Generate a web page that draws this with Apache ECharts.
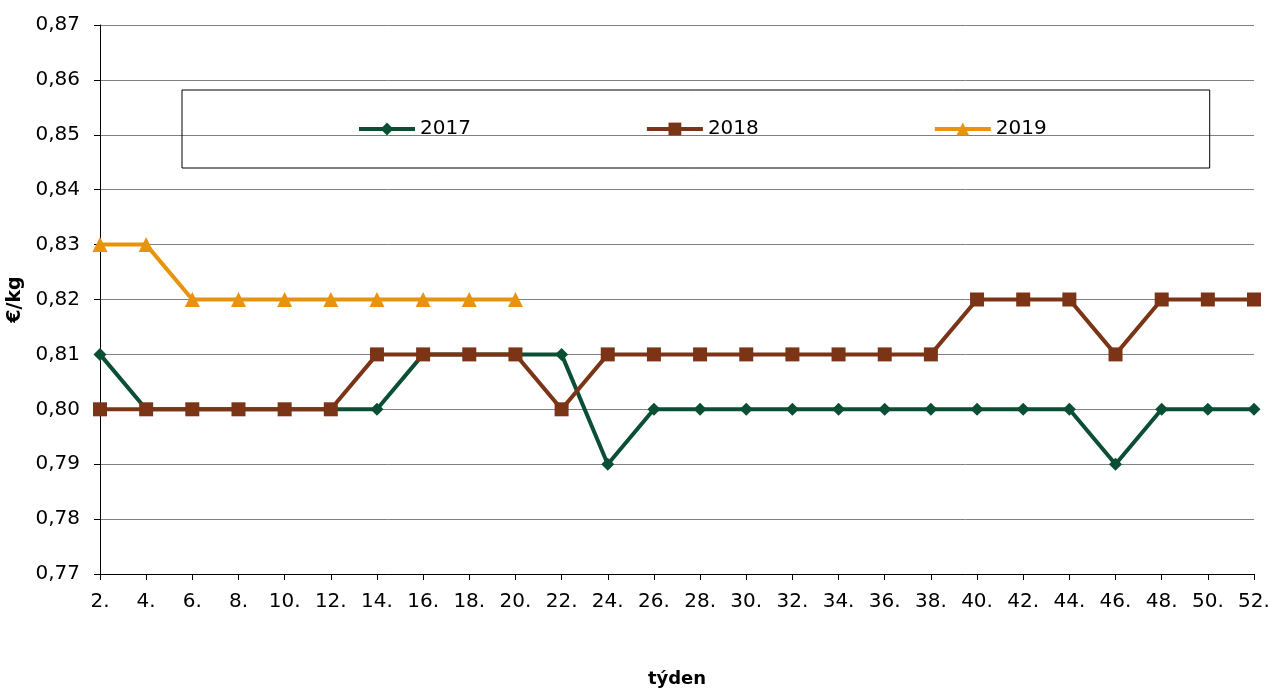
<!DOCTYPE html>
<html>
<head>
<meta charset="utf-8">
<script src="https://cdn.jsdelivr.net/npm/echarts@6/dist/echarts.min.js"></script>
<style>
  html, body { margin: 0; padding: 0; background: #fff; }
  #chart { width: 1273px; height: 689px; }
</style>
</head>
<body>
<div id="chart"></div>
<script>
// týdny (kategorie osy x)
const weeks = ['2.', '4.', '6.', '8.', '10.', '12.', '14.', '16.', '18.', '20.', '22.', '24.', '26.',
  '28.', '30.', '32.', '34.', '36.', '38.', '40.', '42.', '44.', '46.', '48.', '50.', '52.'];

const y2017 = [0.81, 0.80, 0.80, 0.80, 0.80, 0.80, 0.80, 0.81, 0.81, 0.81, 0.81, 0.79, 0.80,
  0.80, 0.80, 0.80, 0.80, 0.80, 0.80, 0.80, 0.80, 0.80, 0.79, 0.80, 0.80, 0.80];
const y2018 = [0.80, 0.80, 0.80, 0.80, 0.80, 0.80, 0.81, 0.81, 0.81, 0.81, 0.80, 0.81, 0.81,
  0.81, 0.81, 0.81, 0.81, 0.81, 0.81, 0.82, 0.82, 0.82, 0.81, 0.82, 0.82, 0.82];
const y2019 = [0.83, 0.83, 0.82, 0.82, 0.82, 0.82, 0.82, 0.82, 0.82, 0.82];

const yMin = 0.77, yMax = 0.87, yStep = 0.01;

const font = 'DejaVu Sans, Verdana, sans-serif';

const chart = echarts.init(document.getElementById('chart'));
chart.setOption({
  animation: false,
  backgroundColor: '#fff',
  textStyle: { fontFamily: font },
  grid: { left: 100, right: 19, top: 25, bottom: 115, containLabel: false, outerBoundsMode: 'none' },
  legend: {
    left: 182,
    top: 90,
    padding: [29, 163, 29, 175],
    borderColor: '#000',
    borderWidth: 1,
    itemGap: 174,
    itemWidth: 56,
    itemHeight: 16,
    lineStyle: { width: 4 },
    textStyle: { fontSize: 20, color: '#000', fontFamily: font }
  },
  xAxis: {
    type: 'category',
    data: weeks,
    boundaryGap: false,
    name: 'týden',
    nameLocation: 'middle',
    nameGap: 96,
    nameTextStyle: { fontSize: 18, fontWeight: 'bold', color: '#000', fontFamily: font },
    axisLine: { lineStyle: { color: '#000', width: 1 } },
    axisTick: { show: true, alignWithLabel: true, length: 6, lineStyle: { color: '#000' } },
    axisLabel: { fontSize: 20, color: '#000', margin: 18, interval: 0 },
    splitLine: { show: false }
  },
  yAxis: {
    type: 'value',
    min: yMin,
    max: yMax,
    interval: yStep,
    name: '€/kg',
    nameLocation: 'middle',
    nameGap: 71,
    nameRotate: 90,
    nameTextStyle: { fontSize: 19, fontWeight: 'bold', color: '#000', fontFamily: font },
    axisLine: { show: true, lineStyle: { color: '#000', width: 1 } },
    axisTick: { show: true, length: 6, lineStyle: { color: '#000' } },
    axisLabel: {
      fontSize: 20, color: '#000', margin: 20,
      formatter: v => v.toFixed(2).replace('.', ',')
    },
    splitLine: { show: true, lineStyle: { color: '#808080', width: 1 } }
  },
  series: [
    {
      name: '2017', type: 'line', data: y2017,
      symbol: 'diamond', symbolSize: 13, showAllSymbol: true,
      lineStyle: { color: '#0a4f34', width: 4 },
      itemStyle: { color: '#0a4f34' },
      z: 3
    },
    {
      name: '2018', type: 'line', data: y2018,
      symbol: 'rect', symbolSize: 14, showAllSymbol: true,
      lineStyle: { color: '#7b3416', width: 4 },
      itemStyle: { color: '#7b3416' },
      z: 4
    },
    {
      name: '2019', type: 'line', data: y2019,
      symbol: 'triangle', symbolSize: 15, showAllSymbol: true,
      lineStyle: { color: '#e8930c', width: 4 },
      itemStyle: { color: '#e8930c' },
      z: 5
    }
  ]
});
</script>
</body>
</html>
